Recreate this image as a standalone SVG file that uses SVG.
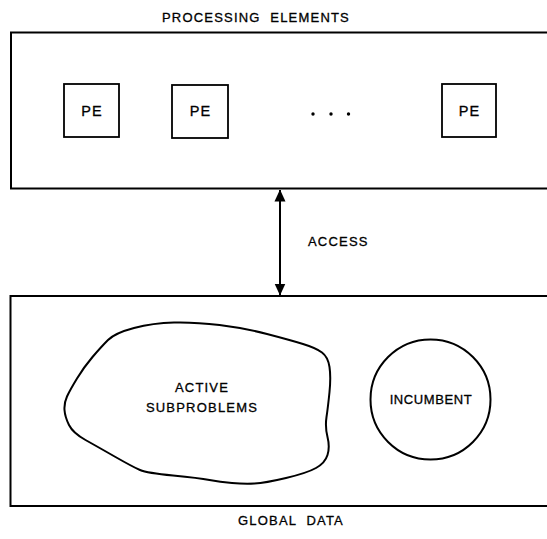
<svg xmlns="http://www.w3.org/2000/svg" width="547" height="539" viewBox="0 0 547 539">
<style>
.frame{fill:none;stroke:#000;stroke-width:2}
.pe{fill:#fff;stroke:#000;stroke-width:1.8}
.shape{fill:none;stroke:#000;stroke-width:2}
.lbl{font-family:"Liberation Sans",Arial,sans-serif;font-size:13px;fill:#000;stroke:#000;stroke-width:0.3;letter-spacing:1.2px}
.big{font-size:14.5px;letter-spacing:1px}
.conn{stroke:#000;stroke-width:2;fill:none}
</style>
<defs>
<marker id="ah" viewBox="0 0 12 14" refX="11.5" refY="7" markerWidth="12" markerHeight="14" markerUnits="userSpaceOnUse" orient="auto-start-reverse">
<path d="M0,1.5 L12,7 L0,12.5 Z" fill="#000"/>
</marker>
</defs>
<rect width="547" height="539" fill="#fff"/>
<g id="processing-elements">
<rect class="frame" x="11" y="32.5" width="545" height="156"/>
<text class="lbl" x="256" y="22" text-anchor="middle" xml:space="preserve">PROCESSING  ELEMENTS</text>
</g>
<g id="pe1">
<rect class="pe" x="64" y="84" width="55" height="53"/>
<text class="lbl big" x="92" y="116" text-anchor="middle">PE</text>
</g>
<g id="pe2">
<rect class="pe" x="172" y="85" width="56" height="53"/>
<text class="lbl big" x="200.5" y="116" text-anchor="middle">PE</text>
</g>
<g id="ellipsis">
<circle cx="313" cy="114" r="1.7"/>
<circle cx="331" cy="114" r="1.7"/>
<circle cx="348.5" cy="114" r="1.7"/>
</g>
<g id="pe3">
<rect class="pe" x="442" y="84" width="54" height="53"/>
<text class="lbl big" x="469.5" y="116" text-anchor="middle">PE</text>
</g>
<g id="global-data">
<rect class="frame" x="10.5" y="296" width="545" height="210"/>
<text class="lbl" x="291" y="525" text-anchor="middle" xml:space="preserve">GLOBAL  DATA</text>
</g>
<g id="active-subproblems">
<path class="shape" d="M108,340 Q115,333 134,328 Q153,323 174,322.5 Q195,322 219.5,325 Q244,328 267,334 Q290,340 303,344 Q316,348 322,352.5 Q328,357 329.5,367 Q331,377 329.5,392 Q328,407 326.5,417 Q325,427 327.5,437 Q330,447 327.5,455 Q325,463 316,468 Q307,473 286,478 Q265,483 254.5,483.5 Q244,484 232,483 Q220,482 209.5,480 Q199,478 173,475.5 Q147,473 140,470 Q133,467 115.5,457 Q98,447 85.5,440 Q73,433 69,425 Q65,417 64.5,410 Q64,403 67,396.5 Q70,390 77,378.5 Q84,367 92.5,357 Q101,347 108,340 Z"/>
<text class="lbl" x="202" y="392" text-anchor="middle">ACTIVE</text>
<text class="lbl" x="202" y="412" text-anchor="middle">SUBPROBLEMS</text>
</g>
<g id="incumbent">
<circle class="shape" cx="430.5" cy="399.5" r="60" stroke-width="1.7"/>
<text class="lbl" x="431" y="404" text-anchor="middle" style="letter-spacing:0.6px">INCUMBENT</text>
</g>
<g id="connectors">
<line class="conn" x1="280" y1="190" x2="280" y2="295" marker-start="url(#ah)" marker-end="url(#ah)"/>
<text class="lbl" x="308" y="246">ACCESS</text>
</g>
</svg>
